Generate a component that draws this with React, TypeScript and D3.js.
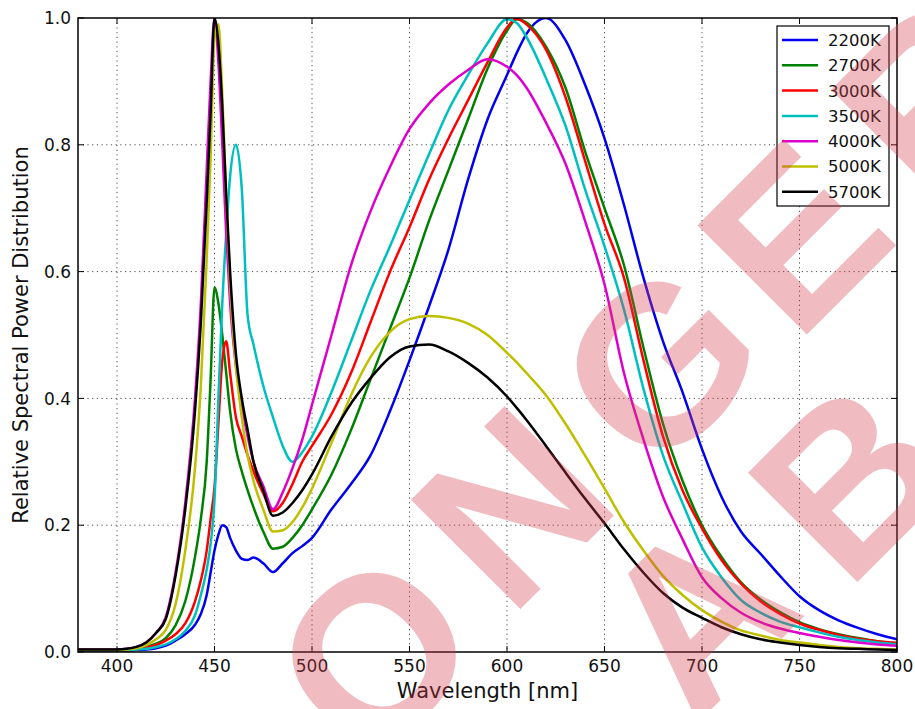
import React from "react";
import * as d3 from "d3";

const wavelengths = [380,400,405,410,415,420,425,430,435,440,443,446,448,450,452,454,456,458,461,464,467,470,475,480,485,490,495,500,510,520,530,540,550,560,570,580,590,600,605,610,620,630,640,650,660,670,680,690,700,710,720,730,740,750,760,770,780,790,800];

const cctLabels = ["2200K","2700K","3000K","3500K","4000K","5000K","5700K"];
const cctColors = ["#0000ee","#008000","#ff0000","#00bfbf","#dd00cc","#bfbf00","#000000"];

const s2200 = [0.002,0.002,0.002,0.003,0.004,0.006,0.01,0.018,0.028,0.043, 0.06,0.09,0.125,0.16,0.185,0.2,0.197,0.18,0.16,0.147, 0.145,0.149,0.14,0.126,0.14,0.156,0.167,0.18,0.225,0.265, 0.31,0.38,0.46,0.545,0.635,0.745,0.84,0.91,0.945,0.975,1.0, 0.965,0.895,0.81,0.705,0.59,0.49,0.41,0.32,0.245,0.19, 0.155,0.12,0.088,0.066,0.05,0.038,0.028,0.02];
const s2700 = [0.003,0.003,0.004,0.005,0.008,0.013,0.022,0.042,0.08,0.15, 0.21,0.3,0.43,0.575,0.55,0.5,0.44,0.38,0.32,0.285, 0.255,0.228,0.19,0.163,0.166,0.18,0.2,0.225,0.28,0.35, 0.43,0.51,0.59,0.68,0.76,0.84,0.92,0.98,0.998,0.993,0.955, 0.89,0.79,0.7,0.61,0.48,0.36,0.27,0.2,0.15,0.11, 0.083,0.063,0.047,0.036,0.028,0.022,0.017,0.014];
const s3000 = [0.003,0.003,0.003,0.004,0.007,0.011,0.018,0.028,0.045,0.08, 0.113,0.16,0.21,0.26,0.36,0.46,0.49,0.44,0.37,0.34, 0.31,0.285,0.25,0.222,0.235,0.265,0.3,0.325,0.375,0.44, 0.52,0.6,0.67,0.745,0.81,0.87,0.93,0.985,0.999,0.99,0.95, 0.875,0.775,0.675,0.59,0.46,0.34,0.255,0.195,0.145,0.108, 0.08,0.06,0.045,0.035,0.027,0.021,0.017,0.014];
const s3500 = [0.003,0.003,0.003,0.004,0.005,0.008,0.012,0.02,0.033,0.058, 0.09,0.13,0.17,0.24,0.4,0.55,0.66,0.75,0.8,0.73, 0.53,0.485,0.42,0.37,0.325,0.3,0.315,0.34,0.41,0.49, 0.57,0.64,0.713,0.785,0.855,0.91,0.96,0.998,0.992,0.97,0.905, 0.83,0.73,0.64,0.54,0.415,0.31,0.235,0.165,0.118,0.082, 0.062,0.048,0.039,0.031,0.024,0.019,0.015,0.012];
const s4000 = [0.004,0.004,0.005,0.008,0.015,0.03,0.055,0.125,0.235,0.4, 0.55,0.76,0.9,1.0,0.93,0.8,0.66,0.55,0.45,0.39, 0.34,0.3,0.262,0.225,0.252,0.29,0.335,0.39,0.5,0.61, 0.695,0.765,0.825,0.865,0.895,0.918,0.935,0.923,0.91,0.89,0.835, 0.77,0.68,0.58,0.44,0.335,0.245,0.178,0.118,0.085,0.062, 0.047,0.037,0.03,0.024,0.019,0.015,0.012,0.01];
const s5000 = [0.003,0.003,0.004,0.006,0.011,0.02,0.035,0.075,0.16,0.29, 0.42,0.62,0.78,0.97,0.99,0.88,0.72,0.58,0.45,0.37, 0.31,0.27,0.225,0.19,0.192,0.205,0.228,0.258,0.33,0.405, 0.465,0.505,0.525,0.53,0.527,0.518,0.5,0.472,0.457,0.44,0.405, 0.36,0.31,0.258,0.205,0.16,0.12,0.09,0.066,0.048,0.034, 0.026,0.019,0.015,0.011,0.008,0.006,0.005,0.004];
const s5700 = [0.004,0.004,0.005,0.008,0.015,0.03,0.052,0.12,0.225,0.38, 0.52,0.71,0.85,1.0,0.96,0.86,0.72,0.6,0.47,0.4, 0.35,0.3,0.255,0.215,0.22,0.235,0.255,0.28,0.34,0.392, 0.432,0.465,0.482,0.485,0.474,0.456,0.433,0.403,0.385,0.366,0.325, 0.283,0.242,0.203,0.162,0.125,0.093,0.07,0.054,0.039,0.028, 0.02,0.015,0.011,0.008,0.006,0.005,0.004,0.003];

const seriesValues = [s2200, s2700, s3000, s3500, s4000, s5000, s5700];

const xTicks = [400,450,500,550,600,650,700,750,800];
const yTicks = [0.0,0.2,0.4,0.6,0.8,1.0];

const watermarkLetters = ["O","N","G","E","R","A","B"];
const watermarkCenters: [number, number][] = [[372,652],[510,505],[657,362],[792,235],[930,95],[694,612],[847,478]];

export default function App() {
  const W = 915, H = 709;
  const left = 78, right = 897, top = 18, bottom = 652;
  const x = d3.scaleLinear().domain([380, 800]).range([left, right]);
  const y = d3.scaleLinear().domain([0, 1]).range([bottom, top]);
  const line = d3.line<number>()
    .x((_, i) => x(wavelengths[i]))
    .y((d) => y(d))
    .curve(d3.curveMonotoneX);
  const font = "'DejaVu Sans', sans-serif";

  return (
    <svg width={W} height={H} style={{ position: "absolute", left: 0, top: 0, background: "#fff" }} fontFamily={font}>
      <defs>
        <clipPath id="plotclip">
          <rect x={left} y={top} width={right - left} height={bottom - top} />
        </clipPath>
      </defs>
      <rect x={0} y={0} width={W} height={H} fill="#fff" />
      {xTicks.filter(t => t > 380 && t < 800).map(t => (
        <line key={"gx" + t} x1={x(t)} x2={x(t)} y1={top} y2={bottom} stroke="#000" strokeOpacity={0.7} strokeWidth={1} strokeDasharray="1.2,3.5" />
      ))}
      {yTicks.filter(t => t > 0 && t < 1).map(t => (
        <line key={"gy" + t} x1={left} x2={right} y1={y(t)} y2={y(t)} stroke="#000" strokeOpacity={0.7} strokeWidth={1} strokeDasharray="1.2,3.5" />
      ))}
      <g clipPath="url(#plotclip)">
        {seriesValues.map((vals, i) => (
          <path key={cctLabels[i]} d={line(vals) || ""} fill="none" stroke={cctColors[i]} strokeWidth={2.5} strokeLinejoin="round" />
        ))}
      </g>
      {xTicks.map(t => (
        <g key={"tx" + t}>
          <line x1={x(t)} x2={x(t)} y1={bottom} y2={bottom - 6} stroke="#000" strokeWidth={1} />
          <line x1={x(t)} x2={x(t)} y1={top} y2={top + 6} stroke="#000" strokeWidth={1} />
          <text x={x(t)} y={672} textAnchor="middle" fontSize={17} fill="#111">{t}</text>
        </g>
      ))}
      {yTicks.map(t => (
        <g key={"ty" + t}>
          <line x1={left} x2={left + 6} y1={y(t)} y2={y(t)} stroke="#000" strokeWidth={1} />
          <line x1={right} x2={right - 6} y1={y(t)} y2={y(t)} stroke="#000" strokeWidth={1} />
          <text x={71} y={y(t)} dy="0.36em" textAnchor="end" fontSize={17} fill="#111">{t.toFixed(1)}</text>
        </g>
      ))}
      <rect x={left} y={top} width={right - left} height={bottom - top} fill="none" stroke="#000" strokeWidth={1.5} />
      <text x={(left + right) / 2} y={698} textAnchor="middle" fontSize={21} fill="#111">Wavelength [nm]</text>
      <text transform={`translate(28, ${(top + bottom) / 2}) rotate(-90)`} textAnchor="middle" fontSize={21} fill="#111">Relative Spectral Power Distribution</text>
      <g>
        <rect x={777} y={26} width={112} height={180} fill="#fff" stroke="#000" strokeWidth={1.2} />
        {cctLabels.map((lab, i) => {
          const yy = 40 + i * 25.3;
          return (
            <g key={"lg" + lab}>
              <line x1={782} x2={818} y1={yy} y2={yy} stroke={cctColors[i]} strokeWidth={2.5} />
              <text x={828} y={yy} dy="0.36em" fontSize={16.5} fill="#111">{lab}</text>
            </g>
          );
        })}
      </g>
      <g fill="#d5404c" fillOpacity={0.35} fontFamily="'Liberation Sans', Arial, sans-serif" fontWeight="bold" fontSize={225}>
        {watermarkLetters.map((ch, i) => (
          <text key={"wm" + i} transform={`translate(${watermarkCenters[i][0]}, ${watermarkCenters[i][1]}) rotate(-45)`} textAnchor="middle" dy="0.36em">{ch}</text>
        ))}
      </g>
    </svg>
  );
}
